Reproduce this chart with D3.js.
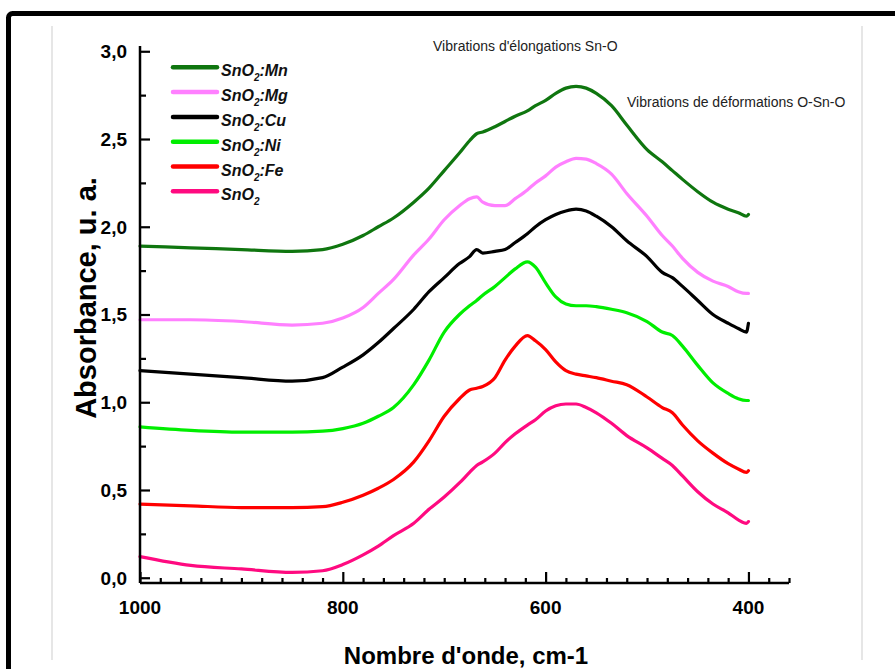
<!DOCTYPE html>
<html>
<head>
<meta charset="utf-8">
<script src="https://cdn.jsdelivr.net/npm/d3@7"></script>
<style>
    html, body { margin: 0; padding: 0; background: #fff; }
    svg { display: block; font-family: Arial, "Liberation Sans", sans-serif; }
</style>
</head>
<body>
<div id="content"></div>
<script>
"use strict";

// wavenumbers (cm-1) shared by every spectrum
var waveNumbers = [1000, 950, 900, 850, 820, 800, 780, 765, 750, 730, 715, 700, 685, 675, 668, 662, 650, 640, 630,
    618, 610, 600, 590, 580, 570, 560, 550, 535, 520, 500, 485, 475, 465, 450, 435, 420, 410, 402, 400];

var snMn = [1.89, 1.88, 1.87, 1.86, 1.87, 1.90, 1.95, 2.00, 2.05, 2.14, 2.22, 2.32, 2.42, 2.49, 2.53, 2.54, 2.57, 2.60, 2.63,
    2.66, 2.69, 2.72, 2.76, 2.79, 2.80, 2.79, 2.76, 2.69, 2.58, 2.44, 2.37, 2.32, 2.27, 2.20, 2.14, 2.10, 2.08, 2.06, 2.07];
var snMg = [1.47, 1.47, 1.46, 1.44, 1.45, 1.48, 1.54, 1.62, 1.70, 1.84, 1.93, 2.04, 2.12, 2.16, 2.17, 2.14, 2.12, 2.12, 2.16,
    2.21, 2.25, 2.29, 2.34, 2.37, 2.39, 2.385, 2.36, 2.30, 2.19, 2.06, 1.95, 1.89, 1.82, 1.74, 1.69, 1.66, 1.63, 1.62, 1.62];
var snCu = [1.18, 1.16, 1.14, 1.12, 1.14, 1.20, 1.27, 1.34, 1.42, 1.53, 1.63, 1.71, 1.79, 1.83, 1.87, 1.85, 1.86, 1.87, 1.91,
    1.96, 2.00, 2.04, 2.07, 2.09, 2.10, 2.09, 2.06, 2.00, 1.92, 1.83, 1.74, 1.71, 1.66, 1.58, 1.50, 1.45, 1.42, 1.40, 1.45];
var snNi = [0.86, 0.84, 0.83, 0.83, 0.835, 0.85, 0.88, 0.92, 0.97, 1.10, 1.24, 1.40, 1.50, 1.55, 1.58, 1.61, 1.66, 1.71, 1.76,
    1.80, 1.77, 1.68, 1.60, 1.56, 1.55, 1.55, 1.545, 1.53, 1.51, 1.46, 1.40, 1.38, 1.32, 1.21, 1.11, 1.05, 1.02, 1.01, 1.01];
var snFe = [0.42, 0.41, 0.40, 0.40, 0.405, 0.43, 0.47, 0.51, 0.56, 0.66, 0.78, 0.92, 1.02, 1.07, 1.08, 1.09, 1.14, 1.24, 1.32,
    1.38, 1.35, 1.30, 1.23, 1.18, 1.16, 1.15, 1.14, 1.12, 1.10, 1.03, 0.97, 0.94, 0.87, 0.78, 0.71, 0.65, 0.62, 0.60, 0.61];
var snPure = [0.12, 0.07, 0.05, 0.03, 0.04, 0.075, 0.13, 0.18, 0.24, 0.31, 0.39, 0.46, 0.54, 0.60, 0.64, 0.66, 0.71, 0.77, 0.82,
    0.87, 0.90, 0.95, 0.98, 0.99, 0.99, 0.97, 0.94, 0.88, 0.81, 0.74, 0.68, 0.64, 0.58, 0.49, 0.42, 0.37, 0.33, 0.31, 0.32];

var seriesNames = ["Mn", "Mg", "Cu", "Ni", "Fe", ""];
var seriesValues = [snMn, snMg, snCu, snNi, snFe, snPure];
var seriesColours = ["#0f760f", "#ff80ff", "#000000", "#00ee00", "#ff0000", "#ff0a80"];

var yTicks = [0, 0.5, 1.0, 1.5, 2.0, 2.5, 3.0];
var yMinorTicks = [0.25, 0.75, 1.25, 1.75, 2.25, 2.75];
var xTicks = [1000, 800, 600, 400];
var xMinorTicks = d3.range(980, 359, -20).filter(function (v) { return v % 200 !== 0; });

var annotations = [
    {text: "Vibrations d'élongations Sn-O", x: 433, y: 51},
    {text: "Vibrations de déformations O-Sn-O", x: 627, y: 107}
];

var W = 895, H = 669;
var svg = d3.select("#content").append("svg").attr("width", W).attr("height", H);

// page frame and faint side rules
svg.append("rect").attr("x", 8.5).attr("y", 13.5).attr("width", 900).attr("height", 700)
    .attr("rx", 4).attr("fill", "none").attr("stroke", "#000").attr("stroke-width", 5);
[52, 862].forEach(function (gx) {
    svg.append("line").attr("x1", gx).attr("x2", gx).attr("y1", 26).attr("y2", 660)
        .attr("stroke", "#e6e6e6").attr("stroke-width", 2);
});

var x = d3.scaleLinear().domain([1000, 360]).range([140, 789]);
var y = d3.scaleLinear().domain([-0.03, 3.03]).range([583, 46]);

// curves
var line = d3.line()
    .x(function (d) { return x(d[0]); })
    .y(function (d) { return y(d[1]); })
    .curve(d3.curveMonotoneX);

seriesValues.forEach(function (vals, i) {
    svg.append("path")
        .datum(waveNumbers.map(function (w, j) { return [w, vals[j]]; }))
        .attr("d", line)
        .attr("fill", "none")
        .attr("stroke", seriesColours[i])
        .attr("stroke-width", 3.2)
        .attr("stroke-linejoin", "round")
        .attr("stroke-linecap", "round");
});

// axes
var yAxis = svg.append("g").attr("transform", "translate(140,0)")
    .call(d3.axisRight(y).tickValues(yTicks).tickSize(10).tickFormat(""));
var yMinor = svg.append("g").attr("transform", "translate(140,0)")
    .call(d3.axisRight(y).tickValues(yMinorTicks).tickSize(6).tickFormat(""));
var xAxis = svg.append("g").attr("transform", "translate(0,583)")
    .call(d3.axisTop(x).tickValues(xTicks).tickSize(11).tickFormat(""));
var xMinor = svg.append("g").attr("transform", "translate(0,583)")
    .call(d3.axisTop(x).tickValues(xMinorTicks).tickSize(5).tickFormat(""));

[yAxis, yMinor, xAxis, xMinor].forEach(function (g) {
    g.selectAll("path").attr("stroke", "#000").attr("stroke-width", 2.5);
    g.selectAll("line").attr("stroke", "#000").attr("stroke-width", 2.2);
});
yMinor.select(".domain").remove();
xMinor.select(".domain").remove();
xAxis.select(".domain").attr("d", "M140,0H789");
yAxis.select(".domain").attr("d", "M0,583V46");

// tick labels
svg.selectAll(".ylab").data(yTicks).enter().append("text")
    .attr("x", 127).attr("y", function (d) { return y(d); }).attr("dy", "0.36em")
    .attr("text-anchor", "end").attr("font-size", 19).attr("font-weight", "bold")
    .text(function (d) { return d3.format(".1f")(d).replace(".", ","); });

svg.selectAll(".xlab").data(xTicks).enter().append("text")
    .attr("x", function (d) { return x(d); }).attr("y", 614)
    .attr("text-anchor", "middle").attr("font-size", 19).attr("font-weight", "bold")
    .text(function (d) { return d; });

// axis titles
svg.append("text").attr("transform", "translate(96,298) rotate(-90)")
    .attr("text-anchor", "middle").attr("font-size", 29).attr("font-weight", "bold")
    .text("Absorbance, u. a.");
svg.append("text").attr("x", 466).attr("y", 664)
    .attr("text-anchor", "middle").attr("font-size", 24).attr("font-weight", "bold")
    .text("Nombre d'onde, cm-1");

// annotations
annotations.forEach(function (a) {
    svg.append("text").attr("x", a.x).attr("y", a.y).attr("font-size", 14).attr("fill", "#222")
        .text(a.text);
});

// legend
seriesNames.forEach(function (name, i) {
    var ly = 67.3 + i * 24.8;
    svg.append("line").attr("x1", 173).attr("x2", 217).attr("y1", ly).attr("y2", ly)
        .attr("stroke", seriesColours[i]).attr("stroke-width", 4.5).attr("stroke-linecap", "round");
    var t = svg.append("text").attr("x", 221).attr("y", ly + 9)
        .attr("font-size", 16).attr("font-weight", "bold").attr("font-style", "italic").attr("fill", "#111");
    t.append("tspan").text("SnO");
    t.append("tspan").attr("dy", 5).attr("font-size", 10).text("2");
    if (name) {
        t.append("tspan").attr("dy", -5).text(":" + name);
    }
});
</script>
</body>
</html>
